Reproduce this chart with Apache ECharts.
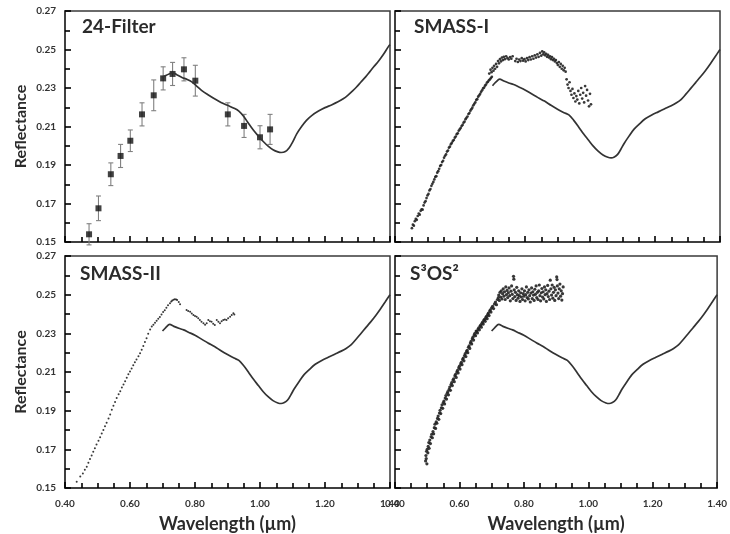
<!DOCTYPE html>
<html><head><meta charset="utf-8">
<script src="https://cdn.jsdelivr.net/npm/echarts@6/dist/echarts.min.js"></script>
<style>html,body{margin:0;padding:0;background:#fff}#c{width:730px;height:534px}</style>
</head><body><div id="c"></div>
<script>
// ---------- DATA ----------
const panelTitles = ['24-Filter', 'SMASS-I', 'SMASS-II', 'S\u00B3OS\u00B2'];
const xTicks = [0.40, 0.60, 0.80, 1.00, 1.20, 1.40];
const yTicks = [0.15, 0.17, 0.19, 0.21, 0.23, 0.25, 0.27];

// Base (reference) spectrum, 24-Filter panel
const baseTL = [[0.698,0.2355],[0.710,0.2365],[0.722,0.2374],[0.731,0.2380],[0.745,0.2368],[0.760,0.2355],[0.775,0.2345],[0.790,0.2332],[0.805,0.2310],[0.820,0.2288],[0.840,0.2265],[0.860,0.2244],[0.880,0.2225],[0.900,0.2210],[0.920,0.2195],[0.935,0.2180],[0.950,0.2152],[0.965,0.2115],[0.980,0.2080],[0.995,0.2050],[1.010,0.2022],[1.025,0.1998],[1.040,0.1979],[1.055,0.1968],[1.065,0.1965],[1.078,0.1970],[1.090,0.1990],[1.100,0.2018],[1.113,0.2062],[1.128,0.2100],[1.143,0.2132],[1.160,0.2158],[1.180,0.2180],[1.200,0.2198],[1.220,0.2212],[1.240,0.2228],[1.256,0.2244],[1.270,0.2262],[1.285,0.2285],[1.297,0.2305],[1.310,0.2330],[1.325,0.2358],[1.338,0.2385],[1.350,0.2410],[1.365,0.2440],[1.380,0.2475],[1.395,0.2515],[1.400,0.2525]];

// Base (reference) spectrum, other panels
const baseOther = [[0.700,0.2312],[0.710,0.2330],[0.722,0.2346],[0.735,0.2336],[0.750,0.2326],[0.765,0.2318],[0.780,0.2306],[0.800,0.2290],[0.820,0.2270],[0.840,0.2250],[0.860,0.2232],[0.880,0.2210],[0.900,0.2190],[0.920,0.2172],[0.935,0.2160],[0.950,0.2132],[0.965,0.2098],[0.980,0.2062],[0.995,0.2030],[1.010,0.1998],[1.025,0.1972],[1.040,0.1952],[1.055,0.1940],[1.065,0.1937],[1.075,0.1942],[1.085,0.1955],[1.095,0.1982],[1.105,0.2012],[1.120,0.2050],[1.135,0.2085],[1.150,0.2110],[1.170,0.2140],[1.190,0.2160],[1.210,0.2176],[1.230,0.2192],[1.250,0.2208],[1.265,0.2222],[1.280,0.2240],[1.295,0.2268],[1.310,0.2298],[1.325,0.2328],[1.340,0.2358],[1.355,0.2390],[1.370,0.2425],[1.385,0.2462],[1.400,0.2500]];

// 24-Filter photometry
const filterX = [0.474,0.503,0.541,0.571,0.601,0.637,0.673,0.702,0.731,0.766,0.801,0.901,0.951,1.000,1.031];
const filterY = [0.1540,0.1675,0.1852,0.1947,0.2026,0.2163,0.2262,0.2350,0.2373,0.2397,0.2338,0.2163,0.2103,0.2044,0.2085];
const filterErr = [0.0055,0.0064,0.0059,0.0060,0.0056,0.0060,0.0080,0.0060,0.0060,0.0060,0.0080,0.0060,0.0060,0.0060,0.0078];

// SMASS-I spectrum
const smass1 = [[0.452,0.1572],[0.455,0.1590],[0.458,0.1585],[0.461,0.1608],[0.464,0.1620],[0.467,0.1615],[0.470,0.1635],[0.473,0.1648],[0.476,0.1642],[0.479,0.1662],[0.482,0.1670],[0.485,0.1668],[0.488,0.1690],[0.491,0.1705],[0.494,0.1712],[0.497,0.1728],[0.500,0.1742],[0.503,0.1750],[0.506,0.1768],[0.509,0.1775],[0.512,0.1792],[0.515,0.1802],[0.518,0.1812],[0.521,0.1825],[0.524,0.1838],[0.527,0.1842],[0.530,0.1860],[0.533,0.1868],[0.536,0.1880],[0.539,0.1895],[0.542,0.1900],[0.545,0.1915],[0.548,0.1922],[0.551,0.1938],[0.554,0.1948],[0.557,0.1955],[0.560,0.1970],[0.563,0.1975],[0.566,0.1990],[0.569,0.1995],[0.572,0.2008],[0.575,0.2015],[0.578,0.2025],[0.581,0.2030],[0.584,0.2042],[0.587,0.2048],[0.590,0.2060],[0.593,0.2065],[0.596,0.2078],[0.599,0.2085],[0.602,0.2092],[0.605,0.2102],[0.608,0.2108],[0.611,0.2120],[0.614,0.2125],[0.617,0.2138],[0.620,0.2145],[0.623,0.2152],[0.626,0.2165],[0.629,0.2170],[0.632,0.2182],[0.635,0.2190],[0.638,0.2198],[0.641,0.2210],[0.644,0.2218],[0.647,0.2225],[0.650,0.2238],[0.653,0.2242],[0.656,0.2255],[0.659,0.2262],[0.662,0.2270],[0.665,0.2280],[0.668,0.2288],[0.671,0.2298],[0.674,0.2302],[0.677,0.2312],[0.680,0.2318],[0.683,0.2328],[0.686,0.2332],[0.689,0.2340],[0.692,0.2345],[0.695,0.2352],[0.698,0.2358],
[0.690,0.2375],[0.694,0.2395],[0.697,0.2382],[0.700,0.2405],[0.703,0.2390],[0.705,0.2415],[0.708,0.2400],[0.711,0.2425],[0.714,0.2410],[0.717,0.2440],[0.720,0.2428],[0.723,0.2450],[0.726,0.2438],[0.729,0.2458],[0.732,0.2445],[0.735,0.2462],[0.738,0.2450],[0.742,0.2465],[0.746,0.2455],[0.750,0.2448],[0.754,0.2460],[0.758,0.2452],[0.762,0.2465],[0.770,0.2440],[0.774,0.2452],[0.778,0.2435],[0.782,0.2448],[0.786,0.2440],[0.790,0.2455],[0.794,0.2442],[0.798,0.2450],[0.802,0.2438],[0.806,0.2455],[0.810,0.2445],[0.814,0.2460],[0.818,0.2448],[0.822,0.2465],[0.826,0.2452],[0.830,0.2470],[0.834,0.2458],[0.838,0.2475],[0.842,0.2462],[0.846,0.2482],[0.850,0.2468],[0.853,0.2490],[0.856,0.2475],[0.859,0.2485],[0.862,0.2470],[0.865,0.2478],[0.868,0.2462],[0.871,0.2472],[0.874,0.2458],[0.877,0.2465],[0.880,0.2450],[0.883,0.2460],[0.886,0.2445],[0.889,0.2452],[0.892,0.2438],[0.895,0.2445],[0.898,0.2430],[0.901,0.2420],[0.904,0.2435],[0.907,0.2410],[0.910,0.2425],[0.913,0.2400],[0.916,0.2415],[0.919,0.2392],[0.922,0.2405],[0.925,0.2385],
[0.928,0.2345],[0.931,0.2318],[0.934,0.2300],[0.937,0.2330],[0.940,0.2285],[0.943,0.2265],[0.946,0.2295],[0.949,0.2248],[0.952,0.2272],[0.955,0.2230],[0.958,0.2258],[0.961,0.2240],[0.964,0.2285],[0.967,0.2220],[0.970,0.2265],[0.973,0.2300],[0.976,0.2245],[0.979,0.2275],[0.982,0.2225],[0.985,0.2310],[0.988,0.2260],[0.991,0.2290],[0.994,0.2235],[0.997,0.2205],[1.000,0.2270],[1.003,0.2215]];

// SMASS-II spectrum
const smass2 = [[0.436,0.1532],[0.447,0.1560],[0.455,0.1575],[0.461,0.1595],[0.467,0.1610],[0.472,0.1630],[0.477,0.1650],[0.482,0.1668],[0.487,0.1688],[0.492,0.1705],[0.497,0.1725],[0.503,0.1745],[0.508,0.1762],[0.513,0.1782],[0.518,0.1800],[0.523,0.1820],[0.528,0.1838],[0.534,0.1860],[0.539,0.1880],[0.544,0.1905],[0.549,0.1925],[0.554,0.1945],[0.559,0.1965],[0.565,0.1985],[0.570,0.2000],[0.575,0.2020],[0.580,0.2035],[0.585,0.2052],[0.590,0.2070],[0.595,0.2088],[0.600,0.2102],[0.605,0.2118],[0.610,0.2135],[0.615,0.2150],[0.620,0.2165],[0.626,0.2182],[0.631,0.2197],[0.636,0.2215],[0.641,0.2235],[0.646,0.2255],[0.651,0.2275],[0.656,0.2298],[0.662,0.2320],[0.667,0.2335],[0.672,0.2345],[0.677,0.2355],[0.682,0.2365],[0.687,0.2375],[0.692,0.2385],[0.697,0.2398],[0.702,0.2410],[0.707,0.2420],[0.712,0.2432],[0.717,0.2445],[0.723,0.2455],[0.727,0.2465],[0.730,0.2470],[0.734,0.2474],[0.738,0.2476],[0.742,0.2475],[0.745,0.2472],[0.750,0.2462],[0.754,0.2450],
[0.774,0.2421],[0.779,0.2415],[0.785,0.2412],[0.790,0.2402],[0.795,0.2395],[0.800,0.2390],[0.805,0.2386],[0.810,0.2378],[0.815,0.2369],[0.820,0.2360],[0.826,0.2352],[0.831,0.2345],[0.836,0.2352],[0.841,0.2369],[0.846,0.2362],[0.851,0.2360],[0.856,0.2350],[0.861,0.2343],[0.867,0.2369],[0.872,0.2360],[0.877,0.2352],[0.882,0.2362],[0.887,0.2369],[0.892,0.2372],[0.897,0.2369],[0.902,0.2378],[0.908,0.2386],[0.913,0.2395],[0.918,0.2404],[0.921,0.2398]];

// S3OS2 spectrum
const s3os2 = [[0.495,0.1640],[0.496,0.1668],[0.497,0.1652],[0.498,0.1690],[0.499,0.1625],[0.500,0.1700],[0.502,0.1682],[0.503,0.1715],[0.505,0.1735],[0.506,0.1705],[0.508,0.1748],[0.510,0.1730],[0.512,0.1765],[0.514,0.1778],[0.516,0.1760],[0.518,0.1792],[0.520,0.1780],[0.522,0.1812],[0.524,0.1830],[0.526,0.1808],[0.528,0.1842],[0.530,0.1835],[0.532,0.1860],[0.534,0.1872],[0.536,0.1855],[0.538,0.1888],[0.540,0.1902],[0.542,0.1885],[0.544,0.1915],[0.546,0.1930],[0.548,0.1912],[0.550,0.1942],[0.552,0.1950],[0.554,0.1935],[0.556,0.1965],[0.558,0.1978],[0.560,0.1960],[0.562,0.1990],[0.564,0.1998],[0.566,0.1982],[0.568,0.2010],[0.570,0.2022],[0.572,0.2005],[0.574,0.2035],[0.576,0.2045],[0.578,0.2030],[0.580,0.2058],[0.582,0.2065],[0.584,0.2050],[0.586,0.2080],[0.588,0.2088],[0.590,0.2072],[0.592,0.2100],[0.594,0.2108],[0.596,0.2095],[0.598,0.2122],[0.600,0.2130],[0.602,0.2115],[0.604,0.2142],[0.606,0.2150],[0.608,0.2138],[0.610,0.2165],[0.612,0.2172],[0.614,0.2158],[0.616,0.2185],[0.618,0.2195],[0.620,0.2180],[0.622,0.2205],[0.624,0.2212],[0.626,0.2200],[0.628,0.2228],[0.630,0.2235],[0.632,0.2222],[0.634,0.2250],[0.636,0.2258],[0.638,0.2245],[0.640,0.2272],[0.642,0.2280],[0.644,0.2265],[0.646,0.2292],[0.648,0.2300],[0.650,0.2288],[0.652,0.2312],[0.654,0.2310],[0.656,0.2302],[0.658,0.2322],[0.660,0.2328],[0.662,0.2318],[0.664,0.2338],[0.666,0.2342],[0.668,0.2332],[0.670,0.2352],[0.672,0.2358],[0.674,0.2348],[0.676,0.2368],[0.678,0.2372],[0.680,0.2362],[0.682,0.2382],[0.684,0.2388],[0.686,0.2376],[0.688,0.2398],[0.690,0.2405],[0.692,0.2392],[0.694,0.2415],[0.696,0.2422],[0.698,0.2410],[0.700,0.2432],[0.703,0.2440],[0.706,0.2428],[0.709,0.2452],[0.712,0.2462],[0.715,0.2448],[0.718,0.2475],[0.721,0.2485],
[0.722,0.2498],[0.724,0.2470],[0.726,0.2512],[0.728,0.2488],[0.730,0.2520],[0.732,0.2478],[0.734,0.2505],[0.736,0.2530],[0.738,0.2492],[0.740,0.2515],[0.742,0.2475],[0.744,0.2540],[0.746,0.2500],[0.748,0.2522],[0.750,0.2485],[0.752,0.2510],[0.754,0.2535],[0.756,0.2495],[0.758,0.2468],[0.760,0.2518],[0.762,0.2545],[0.764,0.2502],[0.766,0.2480],[0.768,0.2595],[0.769,0.2580],[0.770,0.2525],[0.772,0.2490],[0.774,0.2512],[0.776,0.2470],[0.778,0.2538],[0.780,0.2500],[0.782,0.2482],[0.784,0.2520],[0.786,0.2495],[0.788,0.2465],[0.790,0.2510],[0.792,0.2488],[0.794,0.2530],[0.796,0.2475],[0.798,0.2505],[0.800,0.2492],[0.802,0.2520],[0.804,0.2468],[0.806,0.2500],[0.808,0.2540],[0.810,0.2485],[0.812,0.2512],[0.814,0.2478],[0.816,0.2525],[0.818,0.2495],[0.820,0.2462],[0.822,0.2508],[0.824,0.2535],[0.826,0.2480],[0.828,0.2515],[0.830,0.2498],[0.832,0.2470],[0.834,0.2528],[0.836,0.2502],[0.838,0.2545],[0.840,0.2485],[0.842,0.2512],[0.844,0.2475],[0.846,0.2520],[0.848,0.2550],[0.850,0.2495],[0.852,0.2468],[0.854,0.2510],[0.856,0.2532],[0.858,0.2488],[0.860,0.2515],[0.862,0.2478],[0.864,0.2540],[0.866,0.2500],[0.868,0.2525],[0.870,0.2465],[0.872,0.2505],[0.874,0.2548],[0.876,0.2490],[0.878,0.2518],[0.880,0.2475],[0.882,0.2575],[0.884,0.2530],[0.886,0.2498],[0.888,0.2550],[0.890,0.2482],[0.892,0.2512],[0.894,0.2538],[0.896,0.2470],[0.898,0.2525],[0.900,0.2495],[0.902,0.2592],[0.903,0.2578],[0.904,0.2545],[0.906,0.2508],[0.908,0.2480],[0.910,0.2530],[0.912,0.2555],[0.914,0.2492],[0.916,0.2520],[0.918,0.2472],[0.920,0.2505],[0.922,0.2540]];

// ---------- CHART ----------
const FONT = 'Lato, "Open Sans", "DejaVu Sans", sans-serif';
const INK = '#2b2b2b';
const chart = echarts.init(document.getElementById('c'));

const gridBoxes = [
  {left: 65, top: 11, width: 325, height: 231},
  {left: 395, top: 11, width: 325, height: 231},
  {left: 65, top: 256, width: 325, height: 232},
  {left: 395, top: 256, width: 325, height: 232}
];
const grids = gridBoxes.map(b => Object.assign({show: true, borderColor: '#3a3a3a', borderWidth: 1.5}, b));

function makeAxis(i, isX) {
  const showLabel = isX ? i >= 2 : i % 2 === 0;
  return {
    type: 'value', gridIndex: i,
    min: isX ? xTicks[0] : yTicks[0],
    max: isX ? xTicks[xTicks.length - 1] : yTicks[yTicks.length - 1],
    interval: isX ? 0.2 : 0.02,
    axisLine: {show: true, onZero: false, lineStyle: {color: '#333', width: 1.5}},
    axisTick: {show: true, inside: true, length: 6, lineStyle: {color: '#000', width: 1.6}},
    minorTick: {show: true, splitNumber: isX ? 4 : 2, length: 5, lineStyle: {color: '#000', width: 1.6}},
    splitLine: {show: false},
    axisLabel: {show: showLabel, margin: isX ? 11 : 9, fontFamily: FONT, fontWeight: 'bold', fontSize: 10,
      color: '#333', formatter: v => v.toFixed(2)},
    name: showLabel ? (isX ? 'Wavelength (\u00B5m)' : 'Reflectance') : '',
    nameLocation: 'middle', nameGap: isX ? 27 : 36, nameRotate: isX ? 0 : 90,
    nameTextStyle: {fontFamily: FONT, fontWeight: 'bold', fontSize: isX ? 18 : 16, color: INK}
  };
}
const xAxes = [0, 1, 2, 3].map(i => makeAxis(i, true));
const yAxes = [0, 1, 2, 3].map(i => makeAxis(i, false));

function baseSeries(data, i) {
  return {type: 'line', xAxisIndex: i, yAxisIndex: i, data, showSymbol: false, smooth: 0.3,
    lineStyle: {color: '#333', width: 1.7}};
}
function dots(data, i, size) {
  return {type: 'scatter', xAxisIndex: i, yAxisIndex: i, data, symbol: 'circle', symbolSize: size,
    itemStyle: {color: '#222', opacity: 0.9}};
}

const errData = filterX.map((x, k) => [x, filterY[k], filterErr[k]]);

const series = [
  baseSeries(baseTL, 0),
  {
    type: 'custom', xAxisIndex: 0, yAxisIndex: 0, data: errData,
    renderItem: (params, api) => {
      const x = api.value(0), y = api.value(1), e = api.value(2);
      const top = api.coord([x, y + e]);
      const bot = api.coord([x, y - e]);
      const st = {stroke: '#808080', lineWidth: 1.1};
      return {type: 'group', children: [
        {type: 'line', shape: {x1: top[0], y1: top[1], x2: bot[0], y2: bot[1]}, style: st},
        {type: 'line', shape: {x1: top[0] - 2.5, y1: top[1], x2: top[0] + 2.5, y2: top[1]}, style: st},
        {type: 'line', shape: {x1: bot[0] - 2.5, y1: bot[1], x2: bot[0] + 2.5, y2: bot[1]}, style: st}
      ]};
    }
  },
  {type: 'scatter', xAxisIndex: 0, yAxisIndex: 0, data: filterX.map((x, k) => [x, filterY[k]]),
    symbol: 'rect', symbolSize: 6, itemStyle: {color: '#111'}},
  baseSeries(baseOther, 1), dots(smass1, 1, 2.7),
  baseSeries(baseOther, 2), dots(smass2, 2, 2),
  baseSeries(baseOther, 3), dots(s3os2, 3, 3.2)
];

const titlePos = [[82, 17], [414, 17], [80, 264], [410, 264]];
const graphic = panelTitles.map((t, i) => ({
  type: 'text', left: titlePos[i][0], top: titlePos[i][1], z: 10,
  style: {text: t, font: 'bold 19px ' + FONT, fill: INK}
}));

chart.setOption({
  animation: false, tooltip: {show: false},
  grid: grids, xAxis: xAxes, yAxis: yAxes, series, graphic
});
</script></body></html>
